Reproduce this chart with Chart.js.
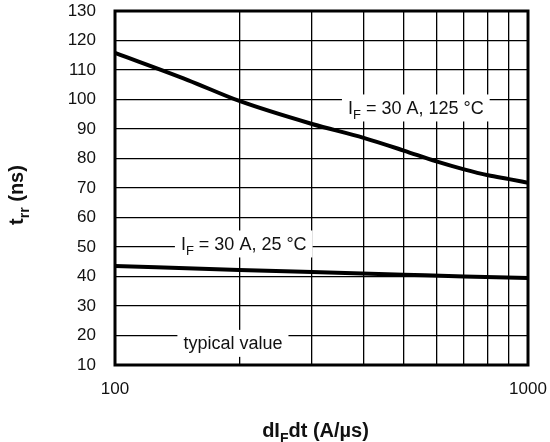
<!DOCTYPE html>
<html>
<head>
<meta charset="utf-8">
<script src="https://cdn.jsdelivr.net/npm/chart.js@4/dist/chart.umd.min.js"></script>
<style>
  html, body { margin: 0; padding: 0; background: #fff; }
  #wrap { width: 550px; height: 442px; }
</style>
</head>
<body>
<div id="wrap"><canvas id="chart" width="550" height="442"></canvas></div>
<script>
// dIF/dt values (A/us) and trr readings (ns)
const x125 = [100, 150, 200, 300, 400, 500, 600, 700, 800, 900, 1000];
const trr125 = [115.8, 106.6, 99.5, 91.7, 87, 82.7, 79, 76.3, 74.3, 73, 71.8];
const x25 = [100, 200, 300, 500, 700, 1000];
const trr25 = [43.6, 42.2, 41.5, 40.6, 40, 39.5];

const xGrid = [100, 200, 300, 400, 500, 600, 700, 800, 900, 1000];
const xLabelled = [100, 1000];

// in-plot notes: text parts [text, subscript?], anchored in data units
const notes = [
  { parts: [['I', false], ['F', true], [' = 30 A, 125 °C', false]], x: 535, y: 97.3 },
  { parts: [['I', false], ['F', true], [' = 30 A, 25 °C', false]], x: 205, y: 51.2 },
  { parts: [['typical value', false]], x: 193, y: 17.5 }
];

const FONT = '"Liberation Sans", Arial, Helvetica, sans-serif';
const INK = '#111';

function richWidth(ctx, parts, size, bold) {
  let w = 0;
  parts.forEach(p => {
    ctx.font = (bold ? 'bold ' : '') + Math.round(p[1] ? size * 0.72 : size) + 'px ' + FONT;
    w += ctx.measureText(p[0]).width;
  });
  return w;
}

function drawRich(ctx, parts, x, y, size, bold) {
  const w = richWidth(ctx, parts, size, bold);
  let cx = x - w / 2;
  ctx.textBaseline = 'alphabetic';
  ctx.textAlign = 'left';
  parts.forEach(p => {
    ctx.font = (bold ? 'bold ' : '') + Math.round(p[1] ? size * 0.72 : size) + 'px ' + FONT;
    ctx.fillText(p[0], cx, p[1] ? y + size * 0.3 : y);
    cx += ctx.measureText(p[0]).width;
  });
}

const notesPlugin = {
  id: 'notes',
  beforeDatasetsDraw(chart) {
    const ctx = chart.ctx;
    const xs = chart.scales.x, ys = chart.scales.y;
    ctx.save();
    notes.forEach(n => {
      const px = xs.getPixelForValue(n.x);
      const py = ys.getPixelForValue(n.y);
      const w = richWidth(ctx, n.parts, 18, false);
      ctx.fillStyle = '#fff';
      ctx.fillRect(px - w / 2 - 6, py - 13, w + 12, 27);
      ctx.fillStyle = INK;
      drawRich(ctx, n.parts, px, py + 6.5, 18, false);
    });
    ctx.restore();
  },
  afterDraw(chart) {
    const ctx = chart.ctx;
    const a = chart.chartArea;
    ctx.save();
    ctx.strokeStyle = '#000';
    ctx.lineWidth = 3;
    ctx.strokeRect(a.left, a.top, a.right - a.left, a.bottom - a.top);
    ctx.fillStyle = INK;
    // x title
    drawRich(ctx, [['dI', false], ['F', true], ['dt (A/µs)', false]],
      (a.left + a.right) / 2 - 6, 437, 20, true);
    // y title
    ctx.translate(23, (a.top + a.bottom) / 2 + 7);
    ctx.rotate(-Math.PI / 2);
    drawRich(ctx, [['t', false], ['rr', true], [' (ns)', false]], 0, 0, 20, true);
    ctx.restore();
  }
};

const noPad = s => { s.paddingTop = 0; s.paddingBottom = 0; s.paddingLeft = 0; s.paddingRight = 0; };

new Chart(document.getElementById('chart').getContext('2d'), {
  type: 'line',
  data: {
    datasets: [
      {
        label: 'IF = 30 A, 125 °C',
        data: x125.map((v, i) => ({ x: v, y: trr125[i] })),
        borderColor: '#000', borderWidth: 4, pointRadius: 0,
        cubicInterpolationMode: 'monotone', fill: false
      },
      {
        label: 'IF = 30 A, 25 °C',
        data: x25.map((v, i) => ({ x: v, y: trr25[i] })),
        borderColor: '#000', borderWidth: 4, pointRadius: 0,
        cubicInterpolationMode: 'monotone', fill: false
      }
    ]
  },
  options: {
    responsive: false,
    animation: false,
    layout: { padding: { left: 0, top: 11, right: 22, bottom: 0 } },
    plugins: { legend: { display: false }, tooltip: { enabled: false } },
    scales: {
      x: {
        type: 'logarithmic',
        min: 100, max: 1000,
        afterBuildTicks: s => { s.ticks = xGrid.map(v => ({ value: v })); },
        afterFit: s => { s.height = 77; noPad(s); },
        grid: { color: '#000', lineWidth: 1.3, drawTicks: false },
        border: { display: false },
        ticks: {
          autoSkip: false, maxRotation: 0, padding: 14,
          color: INK, font: { family: FONT, size: 17 },
          callback: v => xLabelled.includes(v) ? String(v) : ''
        }
      },
      y: {
        min: 10, max: 130,
        afterFit: s => { s.width = 115; noPad(s); },
        grid: { color: '#000', lineWidth: 1.3, drawTicks: false },
        border: { display: false },
        ticks: {
          stepSize: 10, padding: 19,
          color: INK, font: { family: FONT, size: 17 }
        }
      }
    }
  },
  plugins: [notesPlugin]
});
</script>
</body>
</html>
